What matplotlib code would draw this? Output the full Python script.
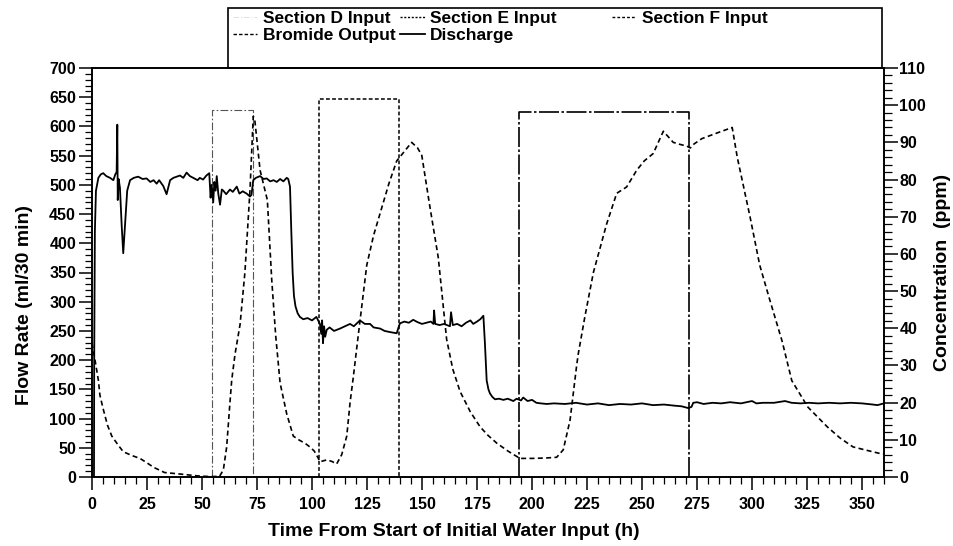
import matplotlib
matplotlib.use("Agg")
import matplotlib.pyplot as plt
from matplotlib.ticker import MultipleLocator
from matplotlib.lines import Line2D
from matplotlib.patches import Rectangle

plt.rcParams['font.family'] = ['Liberation Sans', 'DejaVu Sans']
plt.rcParams['font.weight'] = 'bold'

# water input pulses: start (h), end (h), rate (ml/30 min)
section_d = (54.5, 73.0, 628)
section_e = (103.0, 139.5, 647)
section_f = (194.0, 271.5, 625)

# discharge, ml/30 min
discharge_t = [0.9, 1.0, 1.3, 1.8, 2.9, 4, 5.1, 6.5, 8.2, 9.7, 10.6, 11.2, 11.5, 11.7, 12.1,
               12.7, 13.5, 14.2, 15.0, 16.0, 17.3, 19, 21, 23, 24.8, 26.5, 28, 29.4, 30.5,
               32.4, 33.9, 35.5, 37, 40, 41.5, 43, 44.5, 46, 48, 49, 50.5, 52, 53.3, 53.9,
               54.4, 55.1, 55.6, 56.2, 56.7, 57.4, 58.2, 59, 59.7, 61, 62.7, 64, 65.8, 67,
               68.5, 70.3, 71.8, 72.5, 73.3, 74.5, 76.4, 78, 79.4, 81, 82.5, 84, 85.5, 87,
               88.5, 89.2, 90, 90.6, 91.2, 91.8, 92.5, 93.5, 94.5, 96, 98, 100, 102, 103.6,
               104.2, 104.6, 105, 105.5, 106, 106.7, 108, 110, 112.7, 115, 117.3, 119, 121.8,
               124, 126.4, 128, 131, 133, 135.5, 138.5, 139.5, 140, 142, 144, 146, 148, 150,
               152, 154, 155.2, 155.5, 156, 158, 160, 162.7, 163.2, 164, 166, 168, 170, 172,
               173.3, 175, 176.5, 177.9, 178.3, 178.6, 179.4, 180.2, 180.9, 182, 183.2, 185,
               187, 189, 191.5, 193, 195, 196, 198, 200, 202, 204, 206.7, 210, 215, 220, 225,
               230, 235, 240, 245, 250, 255, 260, 265, 268, 271, 272.5, 273.3, 275, 278, 282,
               286, 290, 295, 300, 302, 305, 310, 315, 318, 322, 326, 330, 335, 340, 345, 350,
               355, 357, 360]
discharge = [0, 200, 420, 490, 512, 518, 520, 515, 512, 508, 518, 522, 603, 474, 510,
             495, 430, 383, 430, 490, 508, 512, 514, 510, 511, 505, 508, 502, 508,
             498, 484, 508, 512, 516, 512, 521, 515, 512, 508, 512, 509, 516, 520, 478,
             500, 470, 505, 490, 515, 485, 466, 492, 490, 484, 492, 488, 497, 485,
             489, 485, 480, 483, 508, 512, 515, 510, 511, 506, 508, 505, 510, 506,
             512, 510, 497, 420, 350, 310, 292, 280, 274, 270, 272, 268, 274, 262,
             245, 268, 229, 258, 240, 252, 256, 250, 254, 258, 262, 258, 268,
             262, 262, 256, 254, 250, 248, 246, 258, 263, 266, 264, 269, 265, 262,
             264, 266, 262, 285, 262, 260, 262, 258, 282, 260, 262, 258, 264, 268,
             262, 266, 270, 276, 250, 229, 165, 150, 143, 137, 133, 134,
             132, 134, 130, 134, 131, 136, 130, 132, 127, 126, 125, 126, 125, 127, 124,
             126, 123, 125, 124, 126, 123, 124, 122, 121, 118, 120, 127, 128, 125, 127,
             126, 128, 126, 130, 126, 127, 127, 130, 127, 126, 127, 126, 127, 126, 127, 126,
             124, 123, 126]

# bromide output, ppm
bromide_t = [0, 1.5, 2.9, 3.6, 5, 7, 9, 12, 14.2, 18, 21.8, 25, 28, 33, 40, 48, 54, 58,
             59.7, 61.2, 62.7, 63.5, 65, 67.3, 69.5, 71.8, 73.3, 74, 76.4, 79.7, 81.7, 83.5,
             85.5, 88.5, 91.5, 94, 97, 99, 101, 102.9, 103.6, 106.7, 109, 111.2, 113.5,
             115.8, 117.3, 118.8, 121, 124.9, 128, 131, 135, 138.5, 145.3, 148, 149.9, 153.5,
             157.4, 161.2, 164, 167.3, 172, 176.4, 180, 184, 189, 194.5, 200, 206, 211.2,
             214.2, 217.3, 220.3, 221, 224, 227.9, 233.9, 238.5, 243, 247.6, 251, 255.1,
             259.7, 264.2, 267, 270.3, 272, 273.5, 277.2, 284, 291, 293.3, 299.1, 303.5,
             307.9, 313.7, 318.1, 325.4, 334.2, 340, 345.9, 352, 357.6, 360]
bromide = [36, 31, 26, 22, 18.5, 14, 11, 8.5, 6.8, 5.8, 5, 3.8, 2.6, 1.2, 0.8, 0.3, 0.1, 0.2,
           1.9, 8, 20, 26, 33, 41, 55, 77, 97, 96, 82.5, 74.5, 53, 38,
           25.3, 17, 11, 10, 9, 8.1, 7, 5, 4.1, 4.6, 4.2, 3.5, 6,
           11, 20, 27, 38, 57, 65, 71, 79, 85, 90, 88.5, 86.5, 73,
           59, 37, 29, 23, 17.5, 13.5, 11.2, 9.1, 7, 5, 5, 5.1, 5.3,
           7.3, 15.3, 30, 33, 43, 55, 68, 76.3, 78, 82.5, 85, 87,
           93, 90, 89.5, 89, 88.5, 89.5, 91, 92.5, 94, 86, 70, 57,
           48, 36.5, 25.9, 18.8, 13.5, 10.5, 8.1, 7.2, 6.4, 6.2]


def pulse(sec):
    t0, t1, rate = sec
    return [t0, t0, t1, t1], [0, rate, rate, 0]


W, H = 954, 546
fig = plt.figure(figsize=(W / 100, H / 100), dpi=100)
ax = fig.add_axes([92 / W, 1 - 477 / H, (884 - 92) / W, (477 - 68) / H])
ax2 = ax.twinx()

d_style = dict(color='#555555', lw=0.8, ls=(0, (7, 2, 1.5, 2)))
e_style = dict(color='black', lw=1.1, ls=(0, (2.5, 1.5)))
f_style = dict(color='black', lw=1.2, ls=(0, (12, 1.5, 1.5, 1.5)))
br_style = dict(color='black', lw=1.2, ls=(0, (3, 2)))
dis_style = dict(color='black', lw=1.3, ls='-')

ax.plot(*pulse(section_d), **d_style)
ax.plot(*pulse(section_e), **e_style)
ax.plot(*pulse(section_f), **f_style)
ax.plot(discharge_t, discharge, **dis_style)
ax2.plot(bromide_t, bromide, **br_style)

ax.set_xlim(0, 360)
ax.set_ylim(0, 700)
ax2.set_ylim(0, 110)

ax.xaxis.set_major_locator(MultipleLocator(25))
ax.xaxis.set_minor_locator(MultipleLocator(5))
ax.yaxis.set_major_locator(MultipleLocator(50))
ax.yaxis.set_minor_locator(MultipleLocator(10))
ax2.yaxis.set_major_locator(MultipleLocator(10))
ax2.yaxis.set_minor_locator(MultipleLocator(2))

for a in (ax, ax2):
    for s in a.spines.values():
        s.set_linewidth(1.2)
ax.tick_params(which='major', direction='out', length=9.5, width=1.1, labelsize=11.5, pad=2)
ax.tick_params(axis='x', which='major', pad=5)
ax.tick_params(which='minor', direction='out', length=5, width=0.9)
ax.tick_params(top=False, right=False, which='both')
ax2.tick_params(which='major', direction='out', length=10, width=1.1, labelsize=11.5, pad=1)
ax2.tick_params(which='minor', direction='out', length=6, width=0.9)

ax.set_ylabel('Flow Rate (ml/30 min)', fontsize=14, fontweight='bold')
ax.yaxis.set_label_coords(-0.075, 0.42)
ax2.set_ylabel('Concentration  (ppm)', fontsize=14, fontweight='bold')
ax2.yaxis.set_label_coords(1.063, 0.5)
ax.set_xlabel('Time From Start of Initial Water Input (h)', fontsize=14, fontweight='bold')
ax.xaxis.set_label_coords(0.457, -0.112)

# legend block on top of the plot
fig.add_artist(Rectangle((228 / W, 1 - 68 / H), (882 - 228) / W, 60 / H,
                         transform=fig.transFigure, fill=False, lw=1.2, ec='black'))
h_d = Line2D([], [], color='#dddddd', lw=0.6, ls=(0, (7, 2, 1.5, 2)))
h_e = Line2D([], [], color='black', lw=1.0, ls=(0, (1.5, 1.2)))
h_f = Line2D([], [], color='black', lw=1.0, ls=(0, (2, 1.5)))
h_br = Line2D([], [], color='black', lw=1.0, ls=(0, (2.5, 1.5)))
h_dis = Line2D([], [], color='black', lw=1.3)
leg_kw = dict(frameon=False, fontsize=12.5, handlelength=1.4, handletextpad=0.3,
              labelspacing=0.12, borderpad=0, borderaxespad=0)
fig.legend([h_d, h_br, h_e, h_dis],
           ['Section D Input', 'Bromide Output', 'Section E Input', 'Discharge'],
           ncol=2, columnspacing=0.3, loc='upper left',
           bbox_to_anchor=(233 / W, 1 - 11 / H), **leg_kw)
fig.legend([h_f], ['Section F Input'], loc='upper left',
           bbox_to_anchor=(612 / W, 1 - 11 / H), **leg_kw)

fig.savefig('out.png', dpi=100)
